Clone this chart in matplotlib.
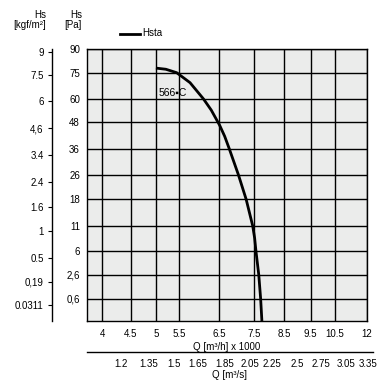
import numpy as np
import matplotlib
matplotlib.use('Agg')
from matplotlib import pyplot as plt
from matplotlib.ticker import NullLocator

plt.rcParams['font.family'] = ['Liberation Sans', 'DejaVu Sans']
plt.rcParams['font.size'] = 7

# curve Hsta, fan 566-C  (Q in m3/h x 1000, Hs in Pa)
q_curve = [5.00, 5.21, 5.45, 5.76, 6.09, 6.29, 6.51, 6.65, 6.78, 7.04, 7.27,
           7.47, 7.53, 7.57, 7.66, 7.72, 7.76]
hs_curve = [77.8, 77.1, 75.0, 69.1, 60.0, 54.1, 46.7, 41.5, 36.0, 26.0, 18.0,
            11.0, 8.36, 6.0, 2.6, 0.6, 0.0]

q_ticks = [4, 4.5, 5, 5.5, 6.5, 7.5, 8.5, 9.5, 10.5, 12]
q_labels = ['4', '4.5', '5', '5.5', '6.5', '7.5', '8.5', '9.5', '10.5', '12']
qs_ticks = [1.2, 1.35, 1.5, 1.65, 1.85, 2.05, 2.25, 2.5, 2.75, 3.05, 3.35]
qs_labels = ['1.2', '1.35', '1.5', '1.65', '1.85', '2.05', '2.25', '2.5', '2.75', '3.05', '3.35']
pa_ticks = [90, 75, 60, 48, 36, 26, 18, 11, 6, 2.6, 0.6]
pa_labels = ['90', '75', '60', '48', '36', '26', '18', '11', '6', '2,6', '0,6']
kgf_ticks = [9, 7.5, 6, 4.6, 3.4, 2.4, 1.6, 1, 0.5, 0.19, 0.0311]
kgf_labels = ['9', '7.5', '6', '4,6', '3.4', '2.4', '1.6', '1', '0.5', '0,19', '0.0311']

G = 9.80665
Q_MIN, Q_MAX = 3.757, 12.0


def fwd(v):
    return np.sqrt(np.maximum(v, 0))


def inv(v):
    return np.square(v)


fig = plt.figure(figsize=(3.88, 3.91), dpi=100)
ax = fig.add_axes([87 / 388, 1 - 321 / 391, 280 / 388, 272 / 391])
ax.set_facecolor('#ebeceb')

ax.set_xscale('log')
ax.set_yscale('function', functions=(fwd, inv))
ax.set_xlim(Q_MIN, Q_MAX)
ax.set_ylim(0, 90)

ax.set_xticks(q_ticks)
ax.set_xticklabels(q_labels)
ax.xaxis.set_minor_locator(NullLocator())
ax.set_yticks(pa_ticks)
ax.set_yticklabels(pa_labels)
ax.yaxis.set_minor_locator(NullLocator())
ax.tick_params(length=0, pad=6)
ax.tick_params(axis='y', pad=5)
ax.grid(True, color='black', linewidth=1.0)
for s in ax.spines.values():
    s.set_linewidth(1.0)

ax.plot(q_curve, hs_curve, color='black', linewidth=2.0, solid_capstyle='butt',
        solid_joinstyle='round')
ax.text(5.05, 63, '566\u25aaC', fontsize=7.5, ha='left', va='center')

ax.set_xlabel('Q [m\u00b3/h] x 1000', labelpad=2)

# kgf/m2 axis on the far left, same sqrt scale as Pa
ax_k = ax.twinx()
ax_k.set_yscale('function', functions=(fwd, inv))
ax_k.set_ylim(0, 90)
ax_k.set_yticks([k * G for k in kgf_ticks])
ax_k.set_yticklabels(kgf_labels)
ax_k.yaxis.set_minor_locator(NullLocator())
ax_k.yaxis.tick_left()
ax_k.spines['left'].set_position(('outward', 35 * 0.72))
for side in ['right', 'top', 'bottom']:
    ax_k.spines[side].set_visible(False)
ax_k.spines['left'].set_linewidth(1.0)
ax_k.tick_params(axis='y', length=3, width=0.8, pad=3)
ax_k.tick_params(axis='x', which='both', bottom=False, top=False,
                 labelbottom=False, labeltop=False)
ax_k.patch.set_visible(False)

# m3/s axis below, a bit wider than the plot
ax_s = fig.add_axes([87 / 388, 1 - 352 / 391, 286 / 388, 0.001])
ax_s.set_xscale('log')
q_right = 4 * 10 ** ((373 - 102) / 555.4)
ax_s.set_xlim(Q_MIN / 3.6, q_right / 3.6)
ax_s.set_xticks(qs_ticks)
ax_s.set_xticklabels(qs_labels)
ax_s.xaxis.set_minor_locator(NullLocator())
ax_s.set_yticks([])
for side in ['left', 'right', 'top']:
    ax_s.spines[side].set_visible(False)
ax_s.spines['bottom'].set_linewidth(1.0)
ax_s.patch.set_visible(False)
ax_s.tick_params(length=0, pad=5)
ax_s.set_xlabel('Q [m\u00b3/s]', labelpad=1)
ax_s.xaxis.label.set_x((230 - 87) / 286)

# axis titles
fig.text(46 / 388, 1 - 20 / 391, 'Hs\n[kgf/m\u00b2]', ha='right', va='center',
         fontsize=7, linespacing=0.95)
fig.text(82 / 388, 1 - 20 / 391, 'Hs\n[Pa]', ha='right', va='center',
         fontsize=7, linespacing=0.95)

# legend
fig.lines.append(plt.Line2D([120 / 388, 140 / 388], [1 - 34 / 391, 1 - 34 / 391],
                            color='black', linewidth=2.0, transform=fig.transFigure))
fig.text(142 / 388, 1 - 33 / 391, 'Hsta', ha='left', va='center', fontsize=7)

fig.savefig('out.png', dpi=100)
